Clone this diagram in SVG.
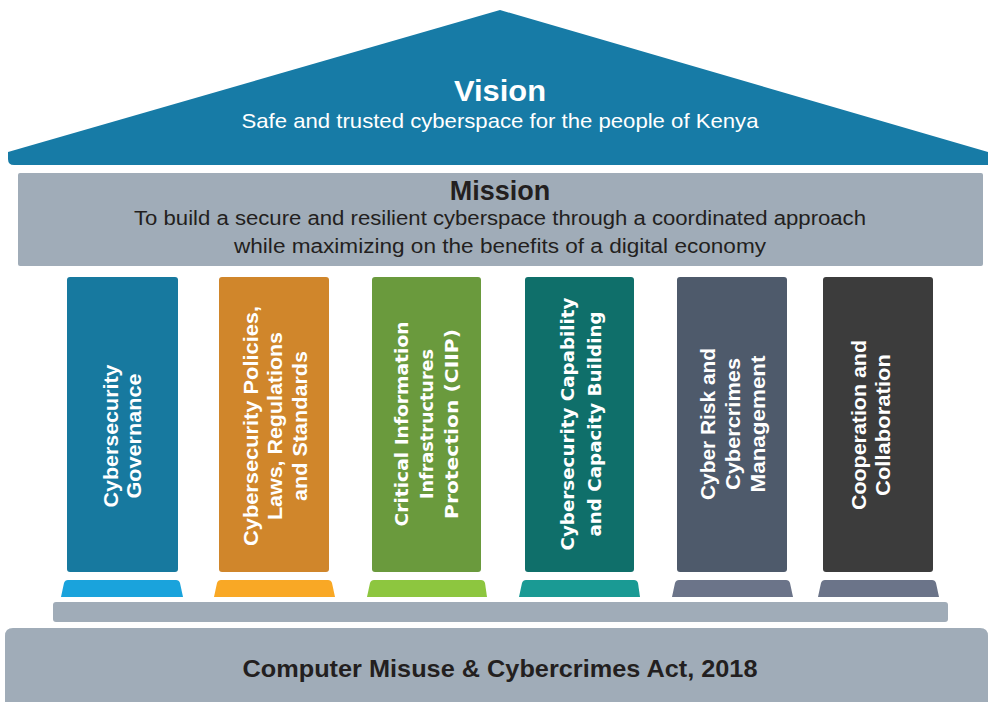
<svg xmlns="http://www.w3.org/2000/svg" width="988" height="702" viewBox="0 0 988 702">
<style>
.pt{font-family:"Liberation Sans",Arial,sans-serif;font-weight:bold;font-size:20px;fill:#fff;text-anchor:middle;dominant-baseline:central}
.pv{font-family:"DejaVu Sans",Verdana,sans-serif;font-weight:bold;font-size:18px;fill:#fff;text-anchor:middle;dominant-baseline:central}
.gray{fill:#a0acb8}
</style>
<rect width="988" height="702" fill="#fff"/>
<g id="vision">
<path d="M8 152 L500 10 L988 152 L988 165 L14 165 Q8 165 8 159 Z" fill="#177ba6"/>
<text x="500" y="101" font-family="Liberation Sans,Arial,sans-serif" font-weight="bold" font-size="29" fill="#fff" text-anchor="middle" textLength="92" lengthAdjust="spacingAndGlyphs">Vision</text>
<text x="500" y="128" font-family="Liberation Sans,Arial,sans-serif" font-size="21" fill="#fff" text-anchor="middle" textLength="517" lengthAdjust="spacingAndGlyphs">Safe and trusted cyberspace for the people of Kenya</text>
</g>
<g id="mission">
<rect x="18" y="173" width="965" height="93" rx="2" class="gray"/>
<text x="500" y="200" font-family="Liberation Sans,Arial,sans-serif" font-weight="bold" font-size="27" fill="#231f20" text-anchor="middle">Mission</text>
<text x="500" y="225" font-family="Liberation Sans,Arial,sans-serif" font-size="20" fill="#231f20" text-anchor="middle" textLength="732" lengthAdjust="spacingAndGlyphs">To build a secure and resilient cyberspace through a coordinated approach</text>
<text x="500" y="253" font-family="Liberation Sans,Arial,sans-serif" font-size="20" fill="#231f20" text-anchor="middle" textLength="532" lengthAdjust="spacingAndGlyphs">while maximizing on the benefits of a digital economy</text>
</g>
<g id="pillar1">
<rect x="67" y="277" width="111" height="295" rx="3" fill="#17799f"/>
<path d="M61 597 L64 583 Q65 580 68 580 L176 580 Q179 580 180 583 L183 597 Z" fill="#1aa3dc"/>
<g transform="translate(122.5 436) rotate(-90)">
<text class="pt" x="0" y="-12" textLength="143" lengthAdjust="spacingAndGlyphs">Cybersecurity</text>
<text class="pt" x="0" y="11" textLength="125" lengthAdjust="spacingAndGlyphs">Governance</text>
</g>
</g>
<g id="pillar2">
<rect x="219" y="277" width="110" height="295" rx="3" fill="#d0862b"/>
<path d="M214 597 L217 583 Q218 580 221 580 L328 580 Q331 580 332 583 L335 597 Z" fill="#f9a825"/>
<g transform="translate(274 426) rotate(-90)">
<text class="pt" x="0" y="-23" textLength="240" lengthAdjust="spacingAndGlyphs">Cybersecurity Policies,</text>
<text class="pt" x="0" y="1" textLength="188" lengthAdjust="spacingAndGlyphs">Laws, Regulations</text>
<text class="pt" x="0" y="26" textLength="150" lengthAdjust="spacingAndGlyphs">and Standards</text>
</g>
</g>
<g id="pillar3">
<rect x="372" y="277" width="109" height="295" rx="3" fill="#6a9a3d"/>
<path d="M367 597 L370 583 Q371 580 374 580 L481 580 Q484 580 485 583 L487 597 Z" fill="#8dc63f"/>
<g transform="translate(426.5 424) rotate(-90)">
<text class="pv" x="0" y="-25" textLength="205" lengthAdjust="spacingAndGlyphs">Critical Information</text>
<text class="pv" x="0" y="0" textLength="150" lengthAdjust="spacingAndGlyphs">Infrastructures</text>
<text class="pv" x="0" y="25" textLength="190" lengthAdjust="spacingAndGlyphs">Protection (CIIP)</text>
</g>
</g>
<g id="pillar4">
<rect x="525" y="277" width="109" height="295" rx="3" fill="#0f6f6a"/>
<path d="M519 597 L522 583 Q523 580 526 580 L634 580 Q637 580 638 583 L640 597 Z" fill="#1a9a94"/>
<g transform="translate(579.5 424) rotate(-90)">
<text class="pv" x="0" y="-12" textLength="253" lengthAdjust="spacingAndGlyphs">Cybersecurity Capability</text>
<text class="pv" x="0" y="15" textLength="225" lengthAdjust="spacingAndGlyphs">and Capacity Building</text>
</g>
</g>
<g id="pillar5">
<rect x="677" y="277" width="110" height="295" rx="3" fill="#4e5a6b"/>
<path d="M672 597 L675 583 Q676 580 679 580 L786 580 Q789 580 790 583 L793 597 Z" fill="#6b7489"/>
<g transform="translate(732 424) rotate(-90)">
<text class="pt" x="0" y="-24" textLength="152" lengthAdjust="spacingAndGlyphs">Cyber Risk and</text>
<text class="pt" x="0" y="1" textLength="132" lengthAdjust="spacingAndGlyphs">Cybercrimes</text>
<text class="pt" x="0" y="26" textLength="137" lengthAdjust="spacingAndGlyphs">Management</text>
</g>
</g>
<g id="pillar6">
<rect x="823" y="277" width="110" height="295" rx="3" fill="#3c3c3c"/>
<path d="M818 597 L821 583 Q822 580 825 580 L932 580 Q935 580 936 583 L939 597 Z" fill="#6b7489"/>
<g transform="translate(878 425) rotate(-90)">
<text class="pt" x="0" y="-19" textLength="170" lengthAdjust="spacingAndGlyphs">Cooperation and</text>
<text class="pt" x="0" y="5" textLength="142" lengthAdjust="spacingAndGlyphs">Collaboration</text>
</g>
</g>
<g id="platform">
<rect x="53" y="602" width="895" height="20" rx="3" class="gray"/>
</g>
<g id="act">
<path d="M5 702 L5 636 Q5 628 13 628 L980 628 Q988 628 988 636 L988 702 Z" class="gray"/>
<text x="500" y="677" font-family="Liberation Sans,Arial,sans-serif" font-weight="bold" font-size="24" fill="#231f20" text-anchor="middle" textLength="515" lengthAdjust="spacingAndGlyphs">Computer Misuse &amp; Cybercrimes Act, 2018</text>
</g>
<g id="connectors"/>
</svg>
